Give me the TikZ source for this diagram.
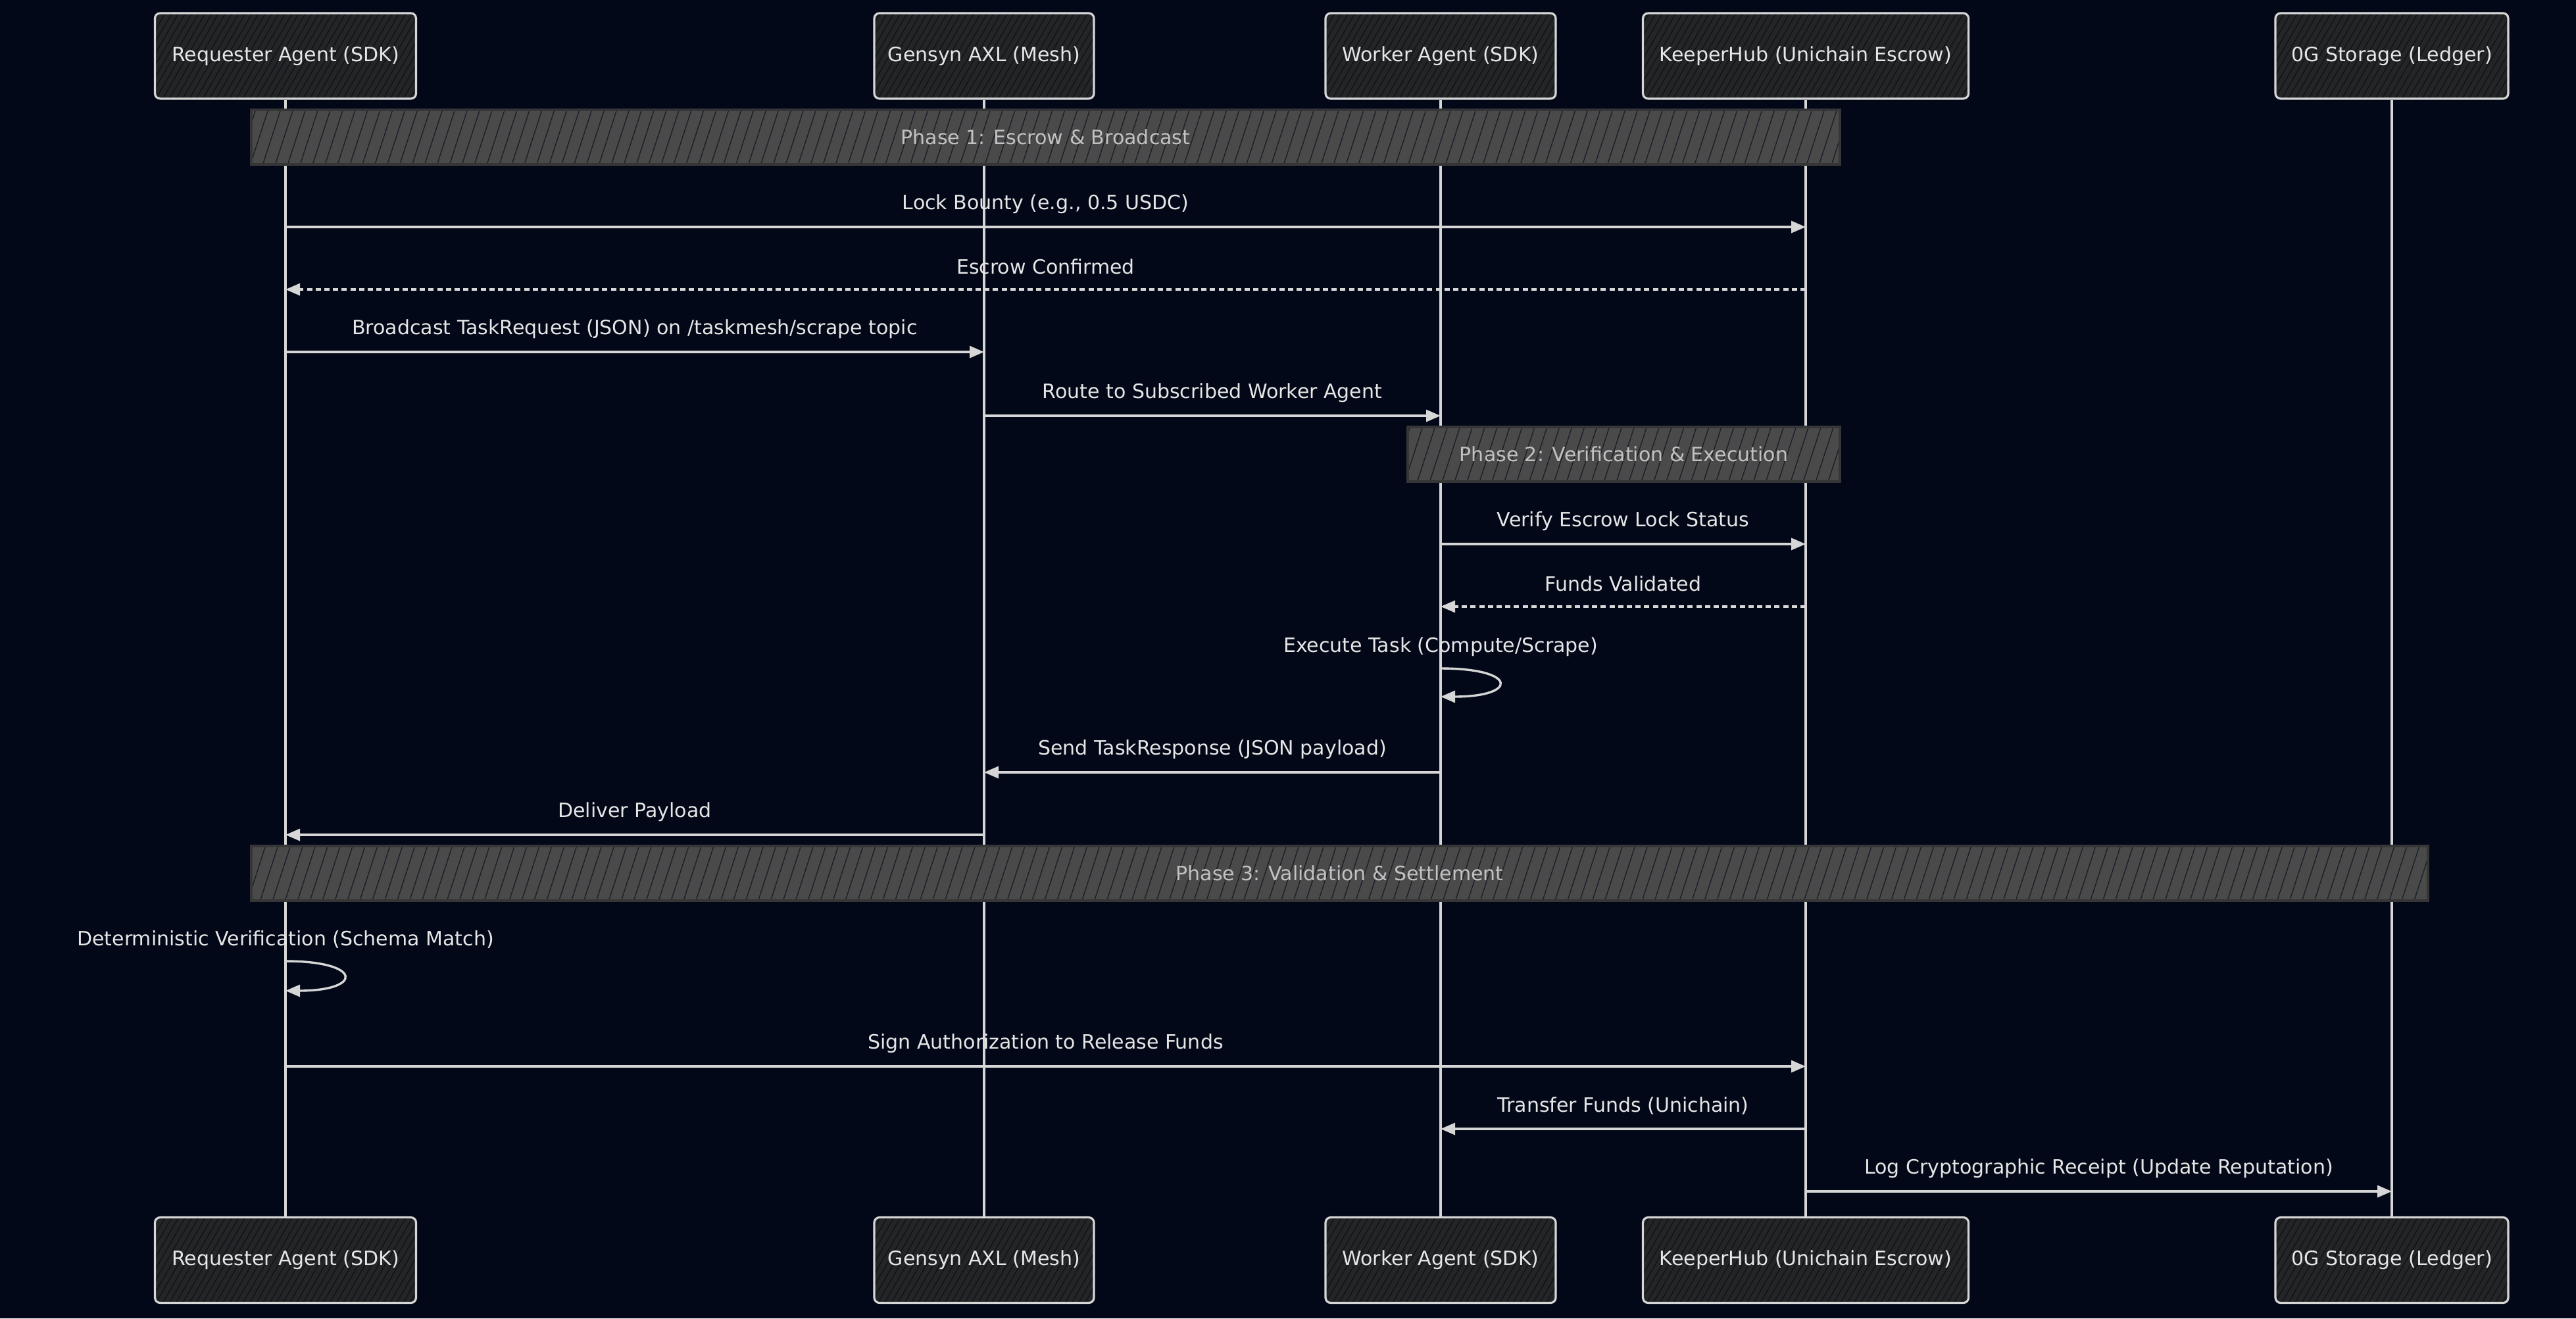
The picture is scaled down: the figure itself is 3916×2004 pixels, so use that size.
\documentclass[tikz,border=0pt]{standalone}
\usepackage{fontspec}
\setmainfont{DejaVu Sans}
\usetikzlibrary{arrows.meta,patterns.meta,calc}
\definecolor{bg}{HTML}{020817}
\definecolor{linec}{HTML}{D6D6D6}
\definecolor{txt}{HTML}{E6E6E6}
\definecolor{boxfill}{HTML}{242526}
\definecolor{hatch}{HTML}{10131B}
\definecolor{phasefill}{HTML}{4A4A4A}
\definecolor{phaseedge}{HTML}{363636}
\definecolor{phasehatch}{HTML}{1C1F28}
\definecolor{phasetxt}{HTML}{C2C2C2}
\begin{document}
\begin{tikzpicture}[x=0.25pt,y=-0.25pt,
  font=\fontsize{7.5}{9}\selectfont,
  part/.style={preaction={fill=boxfill}, pattern={Lines[angle=60,distance=2.2pt,line width=0.35pt]}, pattern color=hatch,
    draw=linec, line width=0.8pt, rounded corners=2pt,
    text=txt, minimum height=32.5pt, inner sep=0pt},
  phase/.style={preaction={fill=phasefill}, pattern={Lines[angle=72,distance=4.5pt,line width=0.35pt]}, pattern color=phasehatch,
    draw=phaseedge, line width=0.9pt,
    text=phasetxt, minimum height=20.75pt, inner sep=0pt},
  life/.style={draw=linec, line width=0.9pt},
  msg/.style={draw=linec, line width=0.85pt, -{Triangle[length=5.5pt,width=4.5pt]}},
  reply/.style={msg, dash pattern=on 2pt off 1.3pt},
  lbl/.style={text=txt, midway, yshift=8.7pt, inner sep=0pt},
  slbl/.style={text=txt, inner sep=0pt}
]
\fill[bg] (0,0) rectangle (3916,2004);

% participants top
\node[part, minimum width=99.25pt] (rqT) at (434,85) {Requester Agent (SDK)};
\node[part, minimum width=83.5pt]  (gnT) at (1496,85) {Gensyn AXL (Mesh)};
\node[part, minimum width=87.5pt]  (wkT) at (2190,85) {Worker Agent (SDK)};
\node[part, minimum width=123.75pt](kpT) at (2745,85) {KeeperHub (Unichain Escrow)};
\node[part, minimum width=88.5pt]  (ogT) at (3636,85) {0G Storage (Ledger)};
% participants bottom
\node[part, minimum width=99.25pt] (rqB) at (434,1915.5) {Requester Agent (SDK)};
\node[part, minimum width=83.5pt]  (gnB) at (1496,1915.5) {Gensyn AXL (Mesh)};
\node[part, minimum width=87.5pt]  (wkB) at (2190,1915.5) {Worker Agent (SDK)};
\node[part, minimum width=123.75pt](kpB) at (2745,1915.5) {KeeperHub (Unichain Escrow)};
\node[part, minimum width=88.5pt]  (ogB) at (3636,1915.5) {0G Storage (Ledger)};

% lifelines
\foreach \p in {rq,gn,wk,kp,og} { \draw[life] (\p T.south) -- (\p B.north); }

% phase bars
\node[phase, minimum width=603.75pt] (ph1) at (1589.5,208.5) {Phase 1: Escrow \& Broadcast};
\node[phase, minimum width=164.25pt] (ph2) at (2468.5,690.5) {Phase 2: Verification \& Execution};
\node[phase, minimum width=827.25pt] (ph3) at (2036.5,1327.5) {Phase 3: Validation \& Settlement};

% rows
\coordinate (r1) at (0,345);
\coordinate (r2) at (0,440);
\coordinate (r3) at (0,535);
\coordinate (r4) at (0,632);
\coordinate (r6) at (0,827);
\coordinate (r7) at (0,922);
\coordinate (l8) at (0,983);
\coordinate (s8a) at (0,1016);
\coordinate (s8b) at (0,1059);
\coordinate (r9) at (0,1174);
\coordinate (r10) at (0,1269);
\coordinate (l11) at (0,1428);
\coordinate (s11a) at (0,1461);
\coordinate (s11b) at (0,1506);
\coordinate (r12) at (0,1621);
\coordinate (r13) at (0,1716);
\coordinate (r14) at (0,1811);

% messages
\draw[msg] (rqT |- r1) -- node[lbl] {Lock Bounty (e.g., 0.5 USDC)} (kpT |- r1);
\draw[reply] (kpT |- r2) -- node[lbl] {Escrow Confirmed} (rqT |- r2);
\draw[msg] (rqT |- r3) -- node[lbl] {Broadcast TaskRequest (JSON) on /taskmesh/scrape topic} (gnT |- r3);
\draw[msg] (gnT |- r4) -- node[lbl] {Route to Subscribed Worker Agent} (wkT |- r4);
\draw[msg] (wkT |- r6) -- node[lbl] {Verify Escrow Lock Status} (kpT |- r6);
\draw[reply] (kpT |- r7) -- node[lbl] {Funds Validated} (wkT |- r7);
\node[slbl] (t8) at (wkT |- l8) {Execute Task (Compute/Scrape)};
\draw[msg] (wkT |- s8a) .. controls +(118,0) and +(118,0) .. (wkT |- s8b);
\draw[msg] (wkT |- r9) -- node[lbl] {Send TaskResponse (JSON payload)} (gnT |- r9);
\draw[msg] (gnT |- r10) -- node[lbl] {Deliver Payload} (rqT |- r10);
\node[slbl] (t11) at (rqT |- l11) {Deterministic Verification (Schema Match)};
\draw[msg] (rqT |- s11a) .. controls +(118,0) and +(118,0) .. (rqT |- s11b);
\draw[msg] (rqT |- r12) -- node[lbl] {Sign Authorization to Release Funds} (kpT |- r12);
\draw[msg] (kpT |- r13) -- node[lbl] {Transfer Funds (Unichain)} (wkT |- r13);
\draw[msg] (kpT |- r14) -- node[lbl] {Log Cryptographic Receipt (Update Reputation)} (ogT |- r14);
\end{tikzpicture}
\end{document}
